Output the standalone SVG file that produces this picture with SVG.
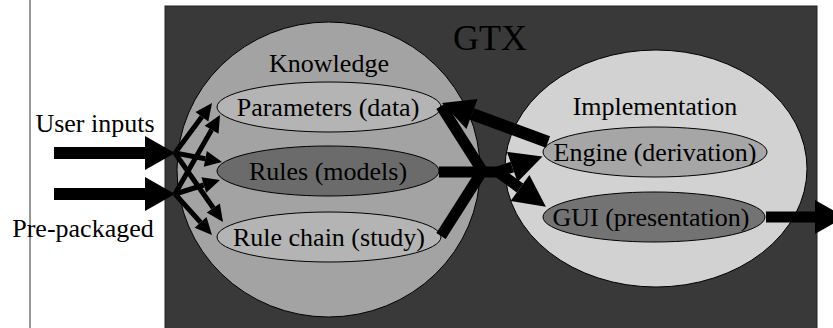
<svg xmlns="http://www.w3.org/2000/svg" width="833" height="328" viewBox="0 0 833 328">
<style>
text{font-family:'Liberation Serif','DejaVu Serif',serif;fill:#000;text-anchor:middle}
.lbl{font-size:26px}
.big{font-size:36px}
.el{stroke:#000;stroke-width:1}
.thick{stroke:#000;fill:none;stroke-width:12}
.mid{stroke:#000;fill:none;stroke-width:11}
.thin{stroke:#000;fill:none;stroke-width:5}
</style>
<defs>
<marker id="hL" markerUnits="userSpaceOnUse" markerWidth="30" markerHeight="34" refX="0" refY="17" orient="auto" overflow="visible"><path d="M0,0 L30,17 L0,34 z" fill="#000"/></marker>
<marker id="hM" markerUnits="userSpaceOnUse" markerWidth="32" markerHeight="32" refX="0" refY="16" orient="auto" overflow="visible"><path d="M0,0 L32,16 L0,32 z" fill="#000"/></marker>
<marker id="hS" markerUnits="userSpaceOnUse" markerWidth="17" markerHeight="16" refX="0" refY="8" orient="auto" overflow="visible"><path d="M0,0 L17,8 L0,16 z" fill="#000"/></marker>
</defs>
<rect width="833" height="328" fill="#fff"/>
<line x1="30" y1="0" x2="30" y2="328" stroke="#333" stroke-width="1"/>
<g id="gtx">
<rect x="165" y="6" width="652" height="330" fill="#393939" stroke="#222" stroke-width="1"/>
<text class="big" x="490" y="50" font-family="Liberation Serif, serif">GTX</text>
</g>
<g id="knowledge">
<ellipse class="el" cx="328.5" cy="169.5" rx="151.5" ry="147.5" fill="#a3a3a3"/>
<text class="lbl" x="329" y="72" font-family="Liberation Serif, serif">Knowledge</text>
</g>
<g id="implementation">
<ellipse class="el" cx="656" cy="168.5" rx="151" ry="118.5" fill="#d2d2d2"/>
<text class="lbl" x="655" y="115" font-family="Liberation Serif, serif">Implementation</text>
</g>
<g id="parameters">
<ellipse class="el" cx="329" cy="107" rx="112" ry="25" fill="#b4b4b4"/>
<text class="lbl" x="328" y="116" font-family="Liberation Serif, serif">Parameters (data)</text>
</g>
<g id="rules">
<ellipse class="el" cx="328" cy="171" rx="111" ry="25" fill="#6b6b6b"/>
<text class="lbl" x="328" y="180" font-family="Liberation Serif, serif">Rules (models)</text>
</g>
<g id="rulechain">
<ellipse class="el" cx="329" cy="237" rx="112" ry="25" fill="#b4b4b4"/>
<text class="lbl" x="329" y="246" font-family="Liberation Serif, serif">Rule chain (study)</text>
</g>
<g id="engine">
<ellipse class="el" cx="655" cy="152" rx="112" ry="25" fill="#a6a6a6"/>
<text class="lbl" x="655" y="161" font-family="Liberation Serif, serif">Engine (derivation)</text>
</g>
<g id="gui">
<ellipse class="el" cx="654" cy="217" rx="111" ry="25" fill="#737373"/>
<text class="lbl" x="651" y="226" font-family="Liberation Serif, serif">GUI (presentation)</text>
</g>
<g id="user-inputs">
<text class="lbl" x="95" y="132" font-family="Liberation Serif, serif">User inputs</text>
</g>
<g id="pre-packaged">
<text class="lbl" x="83" y="237" font-family="Liberation Serif, serif">Pre-packaged</text>
</g>
<g id="connectors">
<line class="thick" x1="54" y1="153" x2="145" y2="153" marker-end="url(#hL)"/>
<line class="thick" x1="54" y1="194" x2="145" y2="194" marker-end="url(#hL)"/>
<line class="thin" x1="175" y1="153" x2="201.9" y2="116.7" marker-end="url(#hS)"/>
<line class="thin" x1="175" y1="194" x2="211.6" y2="129.8" marker-end="url(#hS)"/>
<line class="thin" x1="175" y1="153" x2="205.3" y2="158.8" marker-end="url(#hS)"/>
<line class="thin" x1="175" y1="194" x2="203.8" y2="185.0" marker-end="url(#hS)"/>
<line class="thin" x1="175" y1="153" x2="213.3" y2="208" marker-end="url(#hS)"/>
<line class="thin" x1="175" y1="194" x2="200.6" y2="222.4" marker-end="url(#hS)"/>
<line class="mid" x1="441" y1="106" x2="483" y2="172"/>
<line class="mid" x1="441" y1="236" x2="483" y2="170"/>
<line class="mid" x1="439" y1="172" x2="504" y2="172"/>
<line class="mid" x1="498" y1="172" x2="512.3" y2="167" marker-end="url(#hM)"/>
<line class="mid" x1="498" y1="172" x2="520" y2="188" marker-end="url(#hM)"/>
<line class="thick" x1="548" y1="142" x2="472" y2="114" marker-end="url(#hM)"/>
<line class="mid" x1="766" y1="217" x2="815" y2="217" marker-end="url(#hL)"/>
</g>
</svg>
